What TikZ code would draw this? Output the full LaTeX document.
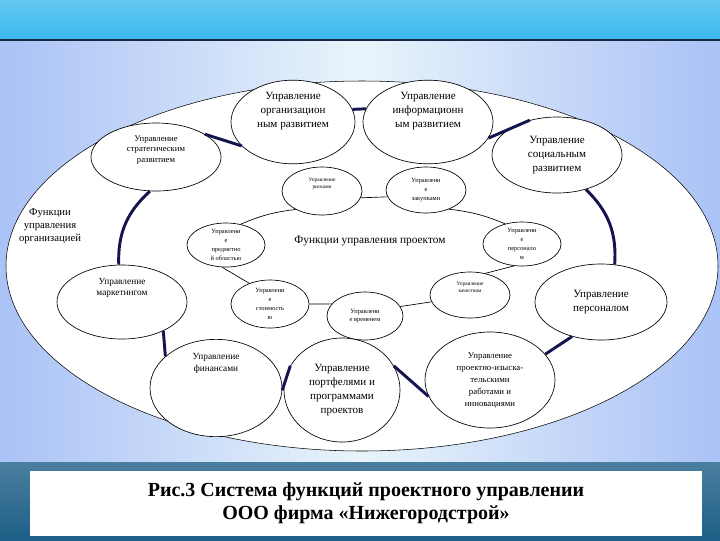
\documentclass[tikz,border=0pt]{standalone}
\usepackage{fontspec}
\setmainfont{Liberation Serif}
\usetikzlibrary{shapes.geometric}
\definecolor{topb}{RGB}{60,185,238}
\definecolor{midb}{RGB}{200,228,244}
\definecolor{botb}{RGB}{30,95,135}
\definecolor{navy}{RGB}{20,20,80}
\definecolor{sepl}{RGB}{20,40,70}
\begin{document}
\begin{tikzpicture}[x=0.75pt,y=-0.75pt,
  sz/.style 2 args={minimum width=0.75*#1 pt,minimum height=0.75*#2 pt},
  el/.style={draw=black,fill=white,ellipse,line width=0.5pt,inner sep=0pt,align=center,font=\fontsize{8.3}{10.3}\selectfont},
  sm/.style={draw=black,fill=white,ellipse,line width=0.5pt,inner sep=0pt,align=center,font=\fontsize{4.8}{6.6}\selectfont},
  thk/.style={draw=navy,line width=2.2pt},
  thn/.style={draw=black,line width=0.5pt}]
\useasboundingbox (0,0) rectangle (720,540);
\shade[top color=topb!80!white,bottom color=topb] (0,0) rectangle (720,40);
\shade[left color=midb!85!blue,right color=midb!85!blue,middle color=white!60!midb] (0,40) rectangle (720,462);
\shade[top color=botb!80,bottom color=botb] (0,462) rectangle (720,540);
\draw[line width=1.2pt,sepl] (0,40) -- (720,40);
\node[draw=black,fill=white,ellipse,sz={712}{370},inner sep=0pt] (outer) at (362,266) {};
\node[fill=white,sz={672}{65},inner sep=0pt,align=center,font=\bfseries\fontsize{15}{17.5}\selectfont] (cap) at (366,503) {Рис.3 Система функций проектного управлении\\ООО фирма «Нижегородстрой»};
\node[font=\fontsize{8.5}{10}\selectfont] (ftitle) at (370,241) {Функции управления проектом};
\node[font=\fontsize{8}{9.5}\selectfont,align=center] (org) at (50,226) {Функции\\управления\\организацией};
% outer ellipses
\node[el,sz={124}{82}] (orgdev) at (293,122) {Управление\\организацион\\ным развитием\\[8pt]};
\node[el,sz={130}{82}] (infdev) at (428,122) {Управление\\информационн\\ым развитием\\[8pt]};
\node[el,sz={130}{68},font=\fontsize{6.5}{8}\selectfont] (strat) at (156,157) {Управление\\стратегическим\\развитием\\[4pt]};
\node[el,sz={130}{76}] (social) at (557,155) {Управление\\социальным\\развитием};
\node[el,sz={132}{76}] (pers) at (601,302) {Управление\\персоналом};
\node[el,sz={130}{74},font=\fontsize{7}{8.5}\selectfont] (mark) at (122,302) {Управление\\маркетингом\\[14pt]};
\node[el,sz={132}{96},font=\fontsize{7}{8.5}\selectfont] (fin) at (216,388) {Управление\\финансами\\[30pt]};
\node[el,sz={116}{104}] (port) at (342,390) {Управление\\портфелями и\\программами\\проектов};
\node[el,sz={130}{96},font=\fontsize{6.6}{9}\selectfont] (design) at (490,380) {Управление\\проектно-изыска-\\тельскими\\работами и\\инновациями};
% inner ellipses
\node[sm,sz={80}{48},font=\fontsize{4}{5.2}\selectfont] (risk) at (322,191) {Управление\\рисками\\[6pt]};
\node[sm,sz={80}{46}] (purch) at (426,190) {Управлени\\е\\закупками};
\node[sm,sz={78}{44}] (subj) at (226,245) {Управлени\\е\\предметно\\й областью};
\node[sm,sz={78}{44}] (ipers) at (522,244) {Управлени\\е\\персонало\\м};
\node[sm,sz={80}{46},font=\fontsize{4}{5.2}\selectfont] (qual) at (470,295) {Управление\\качеством\\[6pt]};
\node[sm,sz={76}{48}] (time) at (365,316) {Управлени\\е временем};
\node[sm,sz={78}{48}] (cost) at (270,304) {Управлени\\е\\стоимость\\ю};
% inner thin connectors
\draw[thn] (risk.215) to[bend right=8] (subj.55);
\draw[thn] (risk.-10) -- (purch.190);
\draw[thn] (purch.-40) to[bend left=8] (ipers.130);
\draw[thn] (ipers.-110) -- (qual.55);
\draw[thn] (qual.190) -- (time.15);
\draw[thn] (time.160) -- (cost.0);
\draw[thn] (cost.135) -- (subj.-100);
% outer thick connectors
\draw[thk] (orgdev.12) -- (infdev.168);
\draw[thk] (strat.25) -- (orgdev.205);
\draw[thk] (infdev.-15) -- (social.128);
\draw[thk] (social.-50) to[bend left=25] (pers.70);
\draw[thk] (strat.-100) to[bend right=25] (mark.95);
\draw[thk] (mark.-35) -- (fin.148);
\draw[thk] (fin.-2) -- (port.155);
\draw[thk] (port.25) -- (design.195);
\draw[thk] (design.25) -- (pers.-130);
\end{tikzpicture}
\end{document}
